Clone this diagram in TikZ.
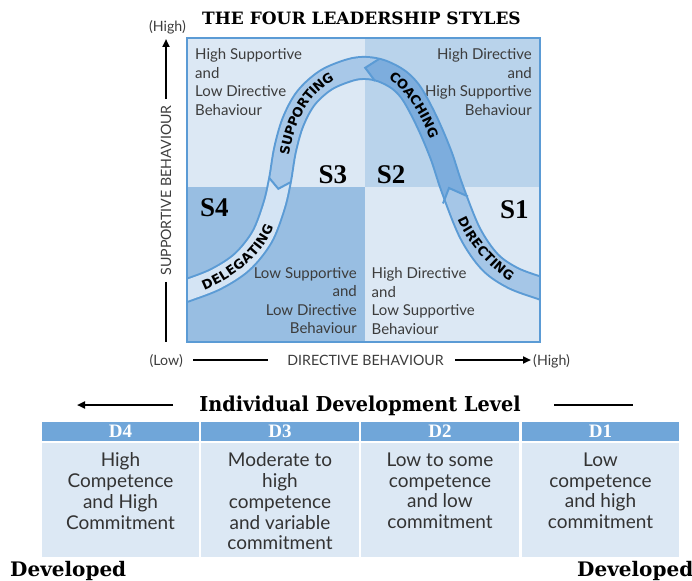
\documentclass[tikz,border=0pt]{standalone}
\usepackage{graphicx}
\usepackage{fontspec}
\setmainfont{Lato}
\newfontfamily\dvserif{DejaVu Serif}
\newfontfamily\dvsans{DejaVu Sans}
\newfontfamily\libserif{Liberation Serif}
\usetikzlibrary{decorations.text,arrows.meta}
\definecolor{qlight}{HTML}{DCE8F4}
\definecolor{qmid}{HTML}{B9D3EB}
\definecolor{qdark}{HTML}{98BEE2}
\definecolor{bordblue}{HTML}{5B9BD5}
\definecolor{fdeleg}{HTML}{D4E4F4}
\definecolor{fsupp}{HTML}{A8C8E8}
\definecolor{fcoach}{HTML}{7DADDD}
\definecolor{fdirect}{HTML}{A5C6E7}
\definecolor{hdrblue}{HTML}{70A6D9}
\definecolor{txtgray}{HTML}{3C3C3C}
\definecolor{celltxt}{HTML}{333333}
\newcommand\bandcurve[1]{\draw[#1] plot[smooth,tension=0.55] coordinates {(176,294) (188,290) (216,279) (242,262) (262,237) (274,206) (280,180) (285,150) (293,122) (306,98) (326,80) (350,70) (366,68) (382,71) (399,80) (412,94) (427,122) (441,155) (452,188) (470,233) (490,262) (513,278) (540,288) (552,292)};}
\begin{document}
\begin{tikzpicture}[x=1pt,y=-1pt,
  qtext/.style={font=\fontsize{15}{18.5}\selectfont, text=txtgray, inner sep=0pt},
  slabel/.style={font=\libserif\bfseries\fontsize{27}{27}\selectfont, inner sep=0pt, anchor=base west},
  axislabel/.style={font=\fontsize{14.2}{14.2}\selectfont, text=txtgray, inner sep=0pt},
  axisline/.style={line width=2pt, black},
  axisarrow/.style={axisline, -{Triangle[length=8pt,width=7pt]}},
  bandedge/.style={draw=bordblue, line width=2pt, line join=miter},
  bandtext/.style={decorate, decoration={text along path, text align=center, raise=-4.7pt, text={|\dvsans\bfseries\fontsize{13}{13}\selectfont|#1}}},
  hdr/.style={fill=hdrblue, text=white, font=\libserif\bfseries\fontsize{19}{19}\selectfont, minimum height=19pt, minimum width=157.5pt, inner sep=0pt},
  cell/.style={fill=qlight, minimum height=113.5pt, minimum width=157.5pt, inner sep=0pt},
  celltext/.style={font=\fontsize{19}{20.8}\selectfont, text=celltxt, align=center, anchor=north, inner sep=0pt},
  devtext/.style={font=\dvserif\bfseries\fontsize{20}{20}\selectfont, inner sep=0pt, anchor=base west},
]
\useasboundingbox (0,0) rectangle (692,580);

% title
\node[font=\dvserif\bfseries\fontsize{17}{17}\selectfont, anchor=base, inner sep=0pt] (title) at (361.5,25) {THE FOUR LEADERSHIP STYLES};

% quadrants
\fill[qlight] (187,38) rectangle (365,187);
\fill[qmid] (365,38) rectangle (540,187);
\fill[qdark] (187,187) rectangle (365,342);
\fill[qlight] (365,187) rectangle (540,342);

% quadrant texts
\node[qtext, anchor=north west, align=left] (tl) at (195,48.3) {High Supportive\\and\\Low Directive\\Behaviour};
\node[qtext, anchor=north east, align=right] (tr) at (532,48.3) {High Directive\\and\\High Supportive\\Behaviour};
\node[qtext, anchor=north east, align=right] (bl) at (357,267.3) {Low Supportive\\and\\Low Directive\\Behaviour};
\node[qtext, anchor=north west, align=left] (br) at (371.5,267.3) {High Directive\\and\\Low Supportive\\Behaviour};

% S labels
\node[slabel] (s4) at (200,216.7) {S4};
\node[slabel] (s3) at (318.3,183.3) {S3};
\node[slabel] (s2) at (376.7,183.3) {S2};
\node[slabel] (s1) at (500,218.3) {S1};

% band
\begin{scope}
\clip (187,38) rectangle (540,342);
\bandcurve{bordblue, line width=24pt}
\begin{scope}
\clip (150,345) -- (150,172.5) -- (264.6,172.5) -- (278.3,188.8) -- (297.1,178.8) -- (320,345) -- cycle;
\bandcurve{fdeleg, line width=20pt}
\end{scope}
\begin{scope}
\clip (264.6,172.5) -- (278.3,188.8) -- (297.1,178.8) -- (379.9,87.6) -- (365.2,67.8) -- (385.9,54.6) -- (385.9,30) -- (150,30) -- (150,172.5) -- cycle;
\bandcurve{fsupp, line width=20pt}
\end{scope}
\begin{scope}
\clip (385.9,30) -- (385.9,54.6) -- (365.2,67.8) -- (379.9,87.6) -- (440,211.25) -- (449,188) -- (477.5,200.75) -- (560,200.75) -- (560,30) -- cycle;
\bandcurve{fcoach, line width=20pt}
\end{scope}
\begin{scope}
\clip (440,211.25) -- (449,188) -- (477.5,200.75) -- (560,200.75) -- (560,345) -- (420,345) -- cycle;
\bandcurve{fdirect, line width=20pt}
\end{scope}
\draw[bandedge] (269.2,177.9) -- (278.3,188.8) -- (290.8,182.1);
\draw[bandedge] (379,59) -- (365.2,67.8) -- (375,81);
\draw[bandedge] (443,203.5) -- (449,188) -- (468,196.5);
\end{scope}

% band labels
\path[bandtext=DELEGATING] (190,290) .. controls (225,280) and (268,250) .. (272,212);
\path[bandtext=SUPPORTING] (283,168) .. controls (286,122) and (308,80) .. (345,72);
\path[bandtext=COACHING] (383,71) .. controls (403,77) and (428,113) .. (437,146);
\path[bandtext=DIRECTING] (459,210) .. controls (466,236) and (498,272) .. (520,281);

% box border
\draw[bordblue, line width=2.5pt] (187,38) rectangle (540,342);

% vertical axis
\node[axislabel, anchor=base] (hitop) at (167.5,32) {(High)};
\node[axislabel, rotate=90, inner xsep=6pt, inner ysep=0pt] (sup) at (166,190.5) {SUPPORTIVE BEHAVIOUR};
\coordinate (vtop) at (166,39);
\coordinate (vbot) at (166,342);
\draw[axisarrow] (sup.east) -- (vtop);
\draw[axisline] (sup.west) -- (vbot);

% horizontal axis
\node[axislabel, anchor=base east] (low) at (183,365) {(Low)};
\node[axislabel, anchor=base] (dirb) at (365.5,365) {DIRECTIVE BEHAVIOUR};
\node[axislabel, anchor=base west] (hiright) at (533,365) {(High)};
\coordinate (h1) at (193,360);
\coordinate (h2) at (268,360);
\coordinate (h3) at (455,360);
\coordinate (h4) at (531,360);
\draw[axisline] (h1) -- (h2);
\draw[axisarrow] (h3) -- (h4);

% development level
\node[font=\dvserif\bfseries\fontsize{20.5}{20.5}\selectfont, anchor=base, inner sep=0pt] (idl) at (360,411) {\scalebox{0.94}[1]{Individual Development Level}};
\coordinate (la1) at (173,405);
\coordinate (la2) at (77,405);
\coordinate (ra1) at (554,405);
\coordinate (ra2) at (633,405);
\draw[axisarrow, line width=2.5pt] (la1) -- (la2);
\draw[axisline, line width=2.5pt] (ra1) -- (ra2);

% table
\node[hdr] (d4) at (120.5,431.5) {D4};
\node[hdr] (d3) at (280,431.5) {D3};
\node[hdr] (d2) at (440,431.5) {D2};
\node[hdr] (d1) at (600.5,431.5) {D1};
\node[cell] (c4) at (120.5,499.75) {};
\node[cell] (c3) at (280,499.75) {};
\node[cell] (c2) at (440,499.75) {};
\node[cell] (c1) at (600.5,499.75) {};
\node[celltext] (t4) at (120.5,452.5) {High\\Competence\\and High\\Commitment};
\node[celltext] (t3) at (280,452.5) {Moderate to\\high\\competence\\and variable\\commitment};
\node[celltext] (t2) at (440,452.5) {Low to some\\competence\\and low\\commitment};
\node[celltext] (t1) at (600.5,452.5) {Low\\competence\\and high\\commitment};

% developed labels
\node[devtext] (devl) at (10,576) {Developed};
\node[devtext] (devr) at (577,576) {Developed};
\end{tikzpicture}
\end{document}
